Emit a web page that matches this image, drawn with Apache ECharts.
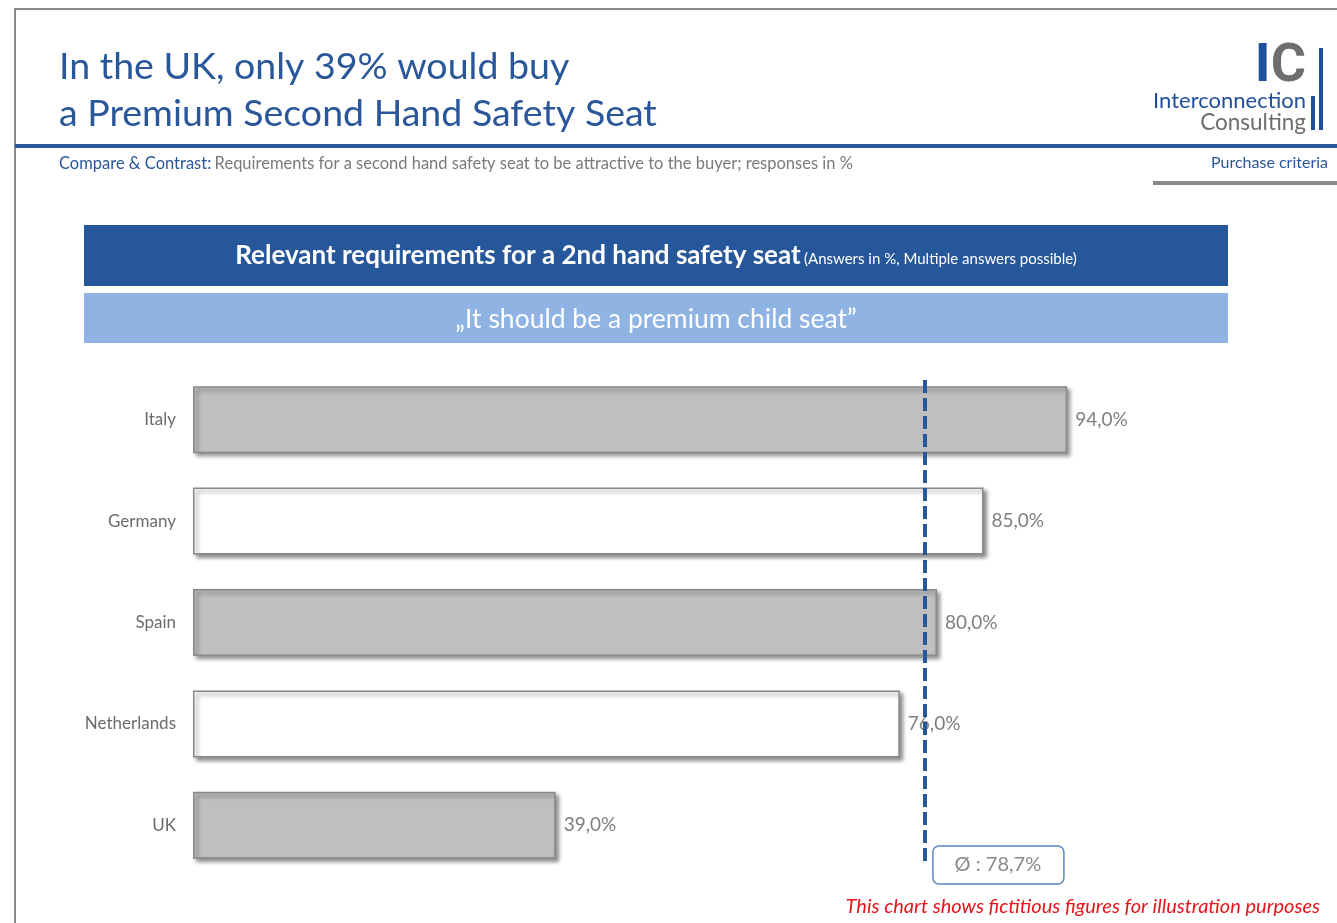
<!DOCTYPE html>
<html><head><meta charset="utf-8">
<script src="https://cdn.jsdelivr.net/npm/echarts@6/dist/echarts.min.js"></script>
<style>html,body{margin:0;padding:0;background:#fff}#c{width:1337px;height:923px}</style>
</head><body><div id="c"></div>
<script>
const categories = ['Italy', 'Germany', 'Spain', 'Netherlands', 'UK'];
const values = [94.0, 85.0, 80.0, 76.0, 39.0];
const barFills = ['#bfbfbf', '#ffffff', '#bfbfbf', '#ffffff', '#bfbfbf'];
const averageValue = 78.7;

const BLUE = '#2a579a';
const FONT = 'Lato, "Noto Sans", sans-serif';
const chart = echarts.init(document.getElementById('c'), null, {renderer: 'canvas'});
const fmt = v => v.toFixed(1).replace('.', ',') + '%';

const option = {
  animation: false,
  grid: {left: 193, top: 369, width: 930, height: 507},
  xAxis: {type: 'value', min: 0, max: 100, show: false},
  yAxis: {
    type: 'category', data: categories, inverse: true,
    axisLine: {show: false}, axisTick: {show: false},
    axisLabel: {color: '#6b6b6b', fontSize: 17, fontFamily: FONT, margin: 17}
  },
  series: [{
    type: 'bar', barWidth: 67,
    data: values.map((v, i) => ({value: v, itemStyle: {color: barFills[i]}})),
    itemStyle: {borderColor: '#8a8a8a', borderWidth: 1.5,
      shadowColor: 'rgba(0,0,0,0.45)', shadowBlur: 4, shadowOffsetX: 3, shadowOffsetY: 3},
    label: {show: true, position: 'right', distance: 8, color: '#7f7f7f', fontSize: 19,
      fontFamily: FONT, formatter: p => fmt(p.value)},
    markLine: {
      silent: true, symbol: 'none', animation: false,
      lineStyle: {color: BLUE, width: 4, type: [13, 5]},
      label: {show: false},
      data: [[{xAxis: averageValue, y: 380}, {xAxis: averageValue, y: 866}]]
    }
  }],
  graphic: [
    {type: 'line', shape: {x1: 15, y1: 9, x2: 1337, y2: 9}, style: {stroke: '#8a8a8a', lineWidth: 2}},
    {type: 'line', shape: {x1: 15, y1: 8, x2: 15, y2: 923}, style: {stroke: '#8a8a8a', lineWidth: 2}},
    {type: 'text', left: 59, top: 48, style: {text: 'In the UK, only 39% would buy', fill: BLUE, font: '37.5px ' + FONT}},
    {type: 'text', left: 59, top: 95, style: {text: 'a Premium Second Hand Safety Seat', fill: BLUE, font: '37.5px ' + FONT}},
    {type: 'rect', shape: {x: 15, y: 144, width: 1322, height: 4}, style: {fill: BLUE}},
    {type: 'text', left: 59, top: 155, style: {
      text: '{b|Compare & Contrast:} {g|Requirements for a second hand safety seat to be attractive to the buyer; responses in %}',
      rich: {b: {fill: BLUE, font: '16.5px ' + FONT}, g: {fill: '#7a7a7a', font: '16.5px ' + FONT}}}},
    {type: 'text', right: 9, top: 155, style: {text: 'Purchase criteria', fill: BLUE, font: '16px ' + FONT}},
    {type: 'rect', shape: {x: 1153, y: 181, width: 184, height: 4}, style: {fill: '#8a8a8a'}},
    // logo
    {type: 'text', right: 31, top: 40, style: {text: '{i|I}{c|C}', rich: {
      i: {fill: '#1f4e9a', font: 'bold 54px Roboto, sans-serif'},
      c: {fill: '#6e6e6e', font: 'bold 54px Roboto, sans-serif'}}}},
    {type: 'rect', shape: {x: 1319, y: 48, width: 4, height: 82}, style: {fill: '#1f4e9a'}},
    {type: 'rect', shape: {x: 1311, y: 96, width: 4, height: 34}, style: {fill: '#1f4e9a'}},
    {type: 'text', right: 31, top: 90, style: {text: 'Interconnection', fill: '#1f4e9a', font: '22px ' + FONT}},
    {type: 'text', right: 31, top: 111, style: {text: 'Consulting', fill: '#6e6e6e', font: '22.5px ' + FONT}},
    // header boxes
    {type: 'rect', shape: {x: 84, y: 225, width: 1144, height: 61}, style: {fill: '#27579b'}},
    {type: 'text', x: 656, y: 256, style: {
      text: '{a|Relevant requirements for a 2nd hand safety seat} {s|(Answers in %, Multiple answers possible)}',
      align: 'center', verticalAlign: 'middle',
      rich: {a: {fill: '#fff', font: 'bold 26px ' + FONT}, s: {fill: '#fff', font: '15px ' + FONT, padding: [6, 0, 0, 0]}}}},
    {type: 'rect', shape: {x: 84, y: 293, width: 1144, height: 50}, style: {fill: '#8fb4e3'}},
    {type: 'text', x: 656, y: 319, style: {text: '\u201EIt should be a premium child seat\u201D', align: 'center',
      verticalAlign: 'middle', fill: '#fff', font: '26.5px ' + FONT}},
    // footer
    {type: 'text', right: 17, top: 897, style: {text: 'This chart shows fictitious figures for illustration purposes',
      fill: '#e8141b', font: 'italic 20px ' + FONT}}
  ]
};
chart.setOption(option);

// average label box positioned next to the average line
const ax = chart.convertToPixel({xAxisIndex: 0}, averageValue);
chart.setOption({graphic: option.graphic.concat([
  {type: 'rect', shape: {x: ax + 8, y: 846, width: 131, height: 38, r: 6},
    style: {fill: '#fff', stroke: '#5b87c5', lineWidth: 1.5}},
  {type: 'text', x: ax + 73, y: 865, style: {text: '\u00D8 : ' + fmt(averageValue), align: 'center',
    verticalAlign: 'middle', fill: '#8a8a8a', font: '20px ' + FONT}}
])});
</script></body></html>
